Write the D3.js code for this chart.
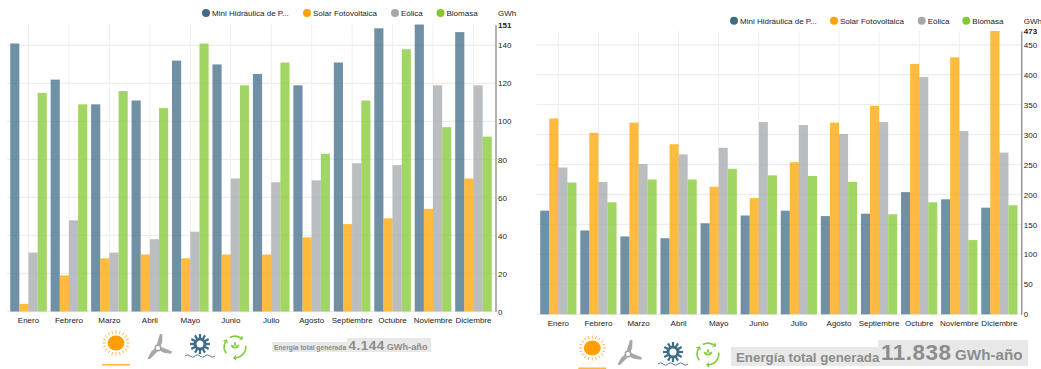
<!DOCTYPE html>
<html>
<head>
<meta charset="utf-8">
<script src="https://cdn.jsdelivr.net/npm/d3@7"></script>
<style>
	html, body { margin: 0; padding: 0; background: #fff; }
	svg { display: block; }
	text { font-family: "Liberation Sans", Arial, sans-serif; fill: #222; }
</style>
</head>
<body>
<div id="chart"></div>
<script>
// months and series names
var months = ['Enero', 'Febrero', 'Marzo', 'Abril', 'Mayo', 'Junio', 'Julio', 'Agosto', 'Septiembre', 'Octubre', 'Noviembre', 'Diciembre'];
var seriesNames = ['Mini Hidráulica de P...', 'Solar Fotovoltaica', 'Eólica', 'Biomasa'];
var seriesColors = ['#3f6b87', '#ffa300', '#a4a8ac', '#83c830'];

// left chart, GWh per month
var hidraulicaA = [141, 122, 109, 111, 132, 130, 125, 119, 131, 149, 151, 147];
var solarA = [4, 19, 28, 30, 28, 30, 30, 39, 46, 49, 54, 70];
var eolicaA = [31, 48, 31, 38, 42, 70, 68, 69, 78, 77, 119, 119];
var biomasaA = [115, 109, 116, 107, 141, 119, 131, 83, 111, 138, 97, 92];
var ticksA = [0, 20, 40, 60, 80, 100, 120, 140, 151];

// right chart, GWh per month
var hidraulicaB = [173, 140, 130, 127, 152, 165, 173, 164, 168, 204, 192, 178];
var solarB = [327, 303, 320, 284, 213, 194, 254, 320, 348, 418, 429, 473];
var eolicaB = [245, 221, 251, 267, 278, 321, 316, 301, 321, 396, 306, 270];
var biomasaB = [220, 187, 225, 225, 243, 232, 231, 221, 167, 187, 124, 182];
var ticksB = [0, 50, 100, 150, 200, 250, 300, 350, 400, 450, 473];

var svg = d3.select('#chart').append('svg')
	.attr('width', 1041)
	.attr('height', 369);

function drawChart(config) {

	var yMax = config.ticks[config.ticks.length - 1];

	// set scales and axes
	var x = d3.scaleBand().domain(months).range([config.left, config.right]).paddingInner(0.095).paddingOuter(0.047);
	var inner = d3.scaleBand().domain(d3.range(4)).range([0, x.bandwidth()]);
	var y = d3.scaleLinear().domain([0, yMax]).range([config.bottom, config.top]);

	var chart = svg.append('g');

	// horizontal grid, the closing tick has no line
	chart.append('g').selectAll('line')
		.data(config.ticks.slice(0, -1))
		.join('line')
		.attr('x1', config.gridLeft)
		.attr('x2', config.axisX)
		.attr('y1', function(d) { return y(d); })
		.attr('y2', function(d) { return y(d); })
		.style('stroke', '#eeeeee')
		.style('stroke-width', 1.3);

	// vertical grid on each month
	chart.append('g').selectAll('line')
		.data(months)
		.join('line')
		.attr('x1', function(d) { return x(d) + x.bandwidth() / 2; })
		.attr('x2', function(d) { return x(d) + x.bandwidth() / 2; })
		.attr('y1', config.top)
		.attr('y2', config.bottom)
		.style('stroke', '#eeeeee')
		.style('stroke-width', 1);

	// bars
	config.series.forEach(function(values, s) {
		chart.append('g').selectAll('rect')
			.data(values)
			.join('rect')
			.attr('x', function(d, i) { return x(months[i]) + inner(s); })
			.attr('y', function(d) { return y(d); })
			.attr('width', inner.bandwidth())
			.attr('height', function(d) { return y(0) - y(d); })
			.style('fill', seriesColors[s])
			.style('opacity', 0.75);
	});

	// month labels
	chart.append('g')
		.attr('transform', 'translate(0,' + config.bottom + ')')
		.call(d3.axisBottom(x).tickSize(0).tickPadding(6))
		.call(function(g) { g.select('.domain').remove(); })
		.selectAll('text')
		.style('font-size', '8px')
		.style('font-family', '"Liberation Sans", Arial, sans-serif');

	// value axis on the right
	chart.append('g')
		.attr('transform', 'translate(' + config.axisX + ',0)')
		.call(d3.axisRight(y).tickValues(config.ticks).tickFormat(d3.format('d')).tickSize(0).tickPadding(2.5))
		.call(function(g) { g.select('.domain').style('stroke', '#666').style('stroke-width', 1); })
		.selectAll('text')
		.style('font-size', '8px')
		.style('font-family', '"Liberation Sans", Arial, sans-serif')
		.style('font-weight', function(d) { return d === yMax ? 'bold' : 'normal'; });

	chart.append('text')
		.attr('x', config.axisX + 2.5)
		.attr('y', config.legendY + 3)
		.style('font-size', '8px')
		.text('GWh');

	// legend
	seriesNames.forEach(function(name, s) {
		chart.append('circle')
			.attr('cx', config.legendX[s])
			.attr('cy', config.legendY)
			.attr('r', 4)
			.style('fill', seriesColors[s]);
		chart.append('text')
			.attr('x', config.legendX[s] + 6)
			.attr('y', config.legendY + 3)
			.style('font-size', '8px')
			.text(name);
	});

	drawSun(chart, config.icons[0][0], config.icons[0][1]);
	drawTurbine(chart, config.icons[1][0], config.icons[1][1]);
	drawWheel(chart, config.icons[2][0], config.icons[2][1]);
	drawRecycle(chart, config.icons[3][0], config.icons[3][1]);

	// underline of the selected icon
	chart.append('rect')
		.attr('x', config.icons[0][0] - 14)
		.attr('y', config.underlineY)
		.attr('width', 28)
		.attr('height', 1.5)
		.style('fill', '#ffb53e');

	drawTotal(chart, config.total);
}

function drawSun(g, cx, cy) {
	var icon = g.append('g').attr('transform', 'translate(' + cx + ',' + cy + ')');
	icon.append('ellipse').attr('rx', 8.5).attr('ry', 7.5).style('fill', '#ffa000');
	icon.selectAll('line')
		.data(d3.range(0, 360, 360 / 20))
		.join('line')
		.attr('x1', function(d) { return 10.5 * Math.cos(d * Math.PI / 180); })
		.attr('y1', function(d) { return 9.5 * Math.sin(d * Math.PI / 180); })
		.attr('x2', function(d) { return 13.5 * Math.cos(d * Math.PI / 180); })
		.attr('y2', function(d) { return 12.5 * Math.sin(d * Math.PI / 180); })
		.style('stroke', '#ffb53e')
		.style('stroke-width', 1);
}

function drawTurbine(g, cx, cy) {
	var icon = g.append('g').attr('transform', 'translate(' + cx + ',' + cy + ')');
	icon.selectAll('path')
		.data([12, 107, 220])
		.join('path')
		.attr('d', 'M-2,-2 L-1,-14 L1.5,-14.5 L2.8,-7 L2,-2 Z')
		.attr('transform', function(d) { return 'rotate(' + d + ')'; })
		.style('fill', '#a5a8ab');
	icon.append('circle').attr('r', 2.8).style('fill', '#fff').style('stroke', '#a5a8ab').style('stroke-width', 1.6);
}

function drawWheel(g, cx, cy) {
	var icon = g.append('g').attr('transform', 'translate(' + cx + ',' + cy + ')');
	icon.selectAll('line')
		.data(d3.range(0, 360, 360 / 12))
		.join('line')
		.attr('x1', function(d) { return 6 * Math.cos(d * Math.PI / 180); })
		.attr('y1', function(d) { return 6 * Math.sin(d * Math.PI / 180); })
		.attr('x2', function(d) { return 10 * Math.cos(d * Math.PI / 180); })
		.attr('y2', function(d) { return 10 * Math.sin(d * Math.PI / 180); })
		.style('stroke', '#3f6c8a')
		.style('stroke-width', 2.2);
	icon.append('circle').attr('r', 5).style('fill', '#fff').style('stroke', '#3f6c8a').style('stroke-width', 3);
	// water under the wheel
	icon.append('path')
		.attr('d', 'M-15,12 q2.5,-2.5 5,0 t5,0 t5,0 t5,0 t5,0 t5,0')
		.style('fill', 'none')
		.style('stroke', '#3f6c8a')
		.style('stroke-width', 0.9);
}

function drawRecycle(g, cx, cy) {
	var icon = g.append('g').attr('transform', 'translate(' + cx + ',' + cy + ')');
	var arc = d3.arc().innerRadius(10).outerRadius(11.6);
	var pieces = [[-0.5, 0.55], [1.45, 3.05], [4.1, 5.2]];
	icon.selectAll('path.part')
		.data(pieces)
		.join('path')
		.attr('class', 'part')
		.attr('d', function(d) { return arc({ startAngle: d[0], endAngle: d[1] }); })
		.style('fill', '#86c940');
	// arrow heads at the end of each piece
	icon.selectAll('path.head')
		.data(pieces)
		.join('path')
		.attr('class', 'head')
		.attr('d', 'M0,-13.8 L0,-7.8 L3,-10.8 Z')
		.attr('transform', function(d) { return 'rotate(' + (d[1] * 180 / Math.PI) + ')'; })
		.style('fill', '#86c940');
	// sprout
	icon.append('path')
		.attr('d', 'M0,4 L0,0 M0,1 C-0.5,-1.5 -3,-2 -4,-2 C-4,0.5 -2,1.5 0,1 M0,1 C0.5,-1.5 3,-2 4,-2 C4,0.5 2,1.5 0,1 M0,-1 C-1.5,-2.5 -1,-4 0,-5 C1,-4 1.5,-2.5 0,-1')
		.style('fill', '#86c940')
		.style('stroke', '#86c940')
		.style('stroke-width', 0.4);
}

// total box with its label, value and unit
function drawTotal(g, t) {
	g.append('rect')
		.attr('x', t.x0).attr('y', t.labelTop)
		.attr('width', t.x1 - t.x0).attr('height', t.bottom - t.labelTop)
		.style('fill', '#e8e8e8');
	g.append('rect')
		.attr('x', t.x1).attr('y', t.valueTop)
		.attr('width', t.x2 - t.x1).attr('height', t.bottom - t.valueTop)
		.style('fill', '#e8e8e8');
	var style = function(sel, size) {
		sel.style('font-weight', 'bold').style('font-size', size + 'px').style('fill', '#8c8c8c');
	};
	g.append('text').attr('x', t.labelX).attr('y', t.labelBase).text('Energía total generada').call(style, t.labelSize);
	g.append('text').attr('x', t.valueX).attr('y', t.baseline).text(t.value).call(style, t.valueSize)
		.style('letter-spacing', t.valueSpacing + 'px');
	g.append('text').attr('x', t.unitX).attr('y', t.baseline).text('GWh-año').call(style, t.unitSize);
}

drawChart({
	series: [hidraulicaA, solarA, eolicaA, biomasaA],
	ticks: ticksA,
	left: 8.3, right: 493.7, top: 24.5, bottom: 311.5,
	gridLeft: 7, axisX: 495.5,
	legendX: [206, 307, 395, 440.5], legendY: 13,
	icons: [[116, 343], [158, 348], [200, 344], [235, 347]],
	underlineY: 364,
	total: {
		x0: 272, x1: 347, x2: 431, labelTop: 342, valueTop: 338, bottom: 352,
		labelX: 274, labelSize: 6.7, labelBase: 349.5,
		value: '4.144', valueX: 348.5, valueSize: 13.5, valueSpacing: 0.5,
		unitX: 386.7, unitSize: 9.2, baseline: 350
	}
});

drawChart({
	series: [hidraulicaB, solarB, eolicaB, biomasaB],
	ticks: ticksB,
	left: 538.3, right: 1019.4, top: 31, bottom: 314.3,
	gridLeft: 536.7, axisX: 1021.3,
	legendX: [734, 834, 921.7, 966.3], legendY: 20.7,
	icons: [[592.3, 348], [628, 354], [673, 352], [708, 354]],
	underlineY: 367.5,
	total: {
		x0: 731, x1: 878, x2: 1028, labelTop: 347, valueTop: 340, bottom: 366,
		labelX: 736, labelSize: 13.3, labelBase: 362,
		value: '11.838', valueX: 881, valueSize: 22.5, valueSpacing: 0.5,
		unitX: 955, unitSize: 15.2, baseline: 359.5
	}
});
</script>
</body>
</html>
